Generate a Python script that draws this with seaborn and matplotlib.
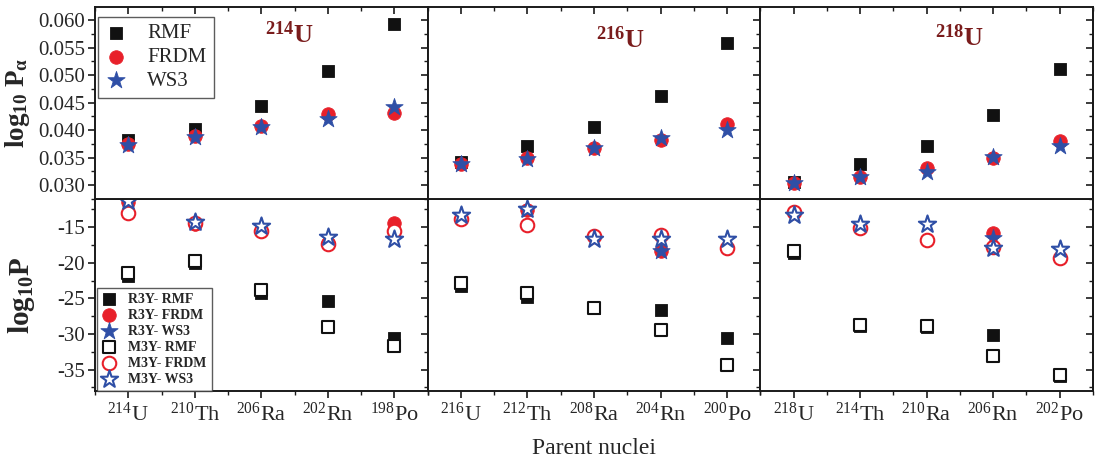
import numpy as np
import pandas as pd
import seaborn as sns
import matplotlib
matplotlib.use("Agg")
import matplotlib.pyplot as plt
from matplotlib.ticker import MultipleLocator, FormatStrFormatter

# ---------------- data ----------------
elements = ["U", "Th", "Ra", "Rn", "Po"]
mass_1 = [214, 210, 206, 202, 198]
mass_2 = [216, 212, 208, 204, 200]
mass_3 = [218, 214, 210, 206, 202]
parents = ["214U", "216U", "218U"]

# log10 P_alpha (top row)
pa_rmf_1 = [0.0383, 0.0402, 0.0444, 0.0508, 0.0593]
pa_frdm_1 = [0.0375, 0.0389, 0.0407, 0.0429, 0.0431]
pa_ws3_1 = [0.0374, 0.0388, 0.0406, 0.0421, 0.0442]
pa_rmf_2 = [0.0342, 0.0371, 0.0405, 0.0462, 0.0558]
pa_frdm_2 = [0.0338, 0.0350, 0.0368, 0.0383, 0.0411]
pa_ws3_2 = [0.0338, 0.0347, 0.0368, 0.0386, 0.0401]
pa_rmf_3 = [0.0306, 0.0338, 0.0371, 0.0427, 0.0511]
pa_frdm_3 = [0.0304, 0.0315, 0.0331, 0.0350, 0.0380]
pa_ws3_3 = [0.0304, 0.0315, 0.0324, 0.0351, 0.0372]

# log10 P (bottom row)
r3y_rmf_1 = [-21.8, -20.1, -24.3, -25.3, -30.5]
r3y_frdm_1 = [-11.5, -14.5, -15.6, -17.2, -14.4]
r3y_ws3_1 = [-11.4, -14.3, -14.9, -16.4, -16.6]
m3y_rmf_1 = [-21.4, -19.8, -23.8, -29.0, -31.7]
m3y_frdm_1 = [-13.0, -14.4, -15.6, -17.4, -15.6]
m3y_ws3_1 = [-11.4, -14.3, -14.9, -16.4, -16.6]

r3y_rmf_2 = [-23.2, -24.8, -26.4, -26.7, -30.5]
r3y_frdm_2 = [-13.9, -12.6, -16.2, -18.3, -17.9]
r3y_ws3_2 = [-13.3, -12.5, -16.7, -18.4, -16.7]
m3y_rmf_2 = [-22.9, -24.3, -26.4, -29.4, -34.4]
m3y_frdm_2 = [-13.9, -14.7, -16.2, -16.1, -17.9]
m3y_ws3_2 = [-13.3, -12.5, -16.7, -16.7, -16.7]

r3y_rmf_3 = [-18.7, -28.9, -29.0, -30.1, -35.9]
r3y_frdm_3 = [-12.9, -15.1, -16.8, -15.8, -19.3]
r3y_ws3_3 = [-13.3, -14.5, -14.5, -16.5, -18.1]
m3y_rmf_3 = [-18.4, -28.8, -28.9, -33.1, -35.8]
m3y_frdm_3 = [-12.9, -15.1, -16.8, -17.8, -19.3]
m3y_ws3_3 = [-13.3, -14.5, -14.5, -17.9, -18.1]

# ---------------- style ----------------
sns.set_theme(style="white")
plt.rcParams['font.family'] = ['Liberation Serif', 'DejaVu Serif']
plt.rcParams['mathtext.fontset'] = 'custom'
plt.rcParams['mathtext.rm'] = 'Liberation Serif'
plt.rcParams['mathtext.it'] = 'Liberation Serif:italic'
plt.rcParams['mathtext.bf'] = 'Liberation Serif:bold'
plt.rcParams['axes.unicode_minus'] = False

BLACK = "#111111"
RED = "#e8202a"
BLUE = "#2f4fa6"
ANNOT = "#7a1c1c"

fig, axes = plt.subplots(2, 3, figsize=(11, 4.63), dpi=100)
fig.subplots_adjust(left=0.0864, right=0.9936, top=0.985, bottom=0.1555,
                    hspace=0, wspace=0)

masses = [mass_1, mass_2, mass_3]
top_data = [(pa_rmf_1, pa_frdm_1, pa_ws3_1),
            (pa_rmf_2, pa_frdm_2, pa_ws3_2),
            (pa_rmf_3, pa_frdm_3, pa_ws3_3)]
bot_data = [(r3y_rmf_1, r3y_frdm_1, r3y_ws3_1, m3y_rmf_1, m3y_frdm_1, m3y_ws3_1),
            (r3y_rmf_2, r3y_frdm_2, r3y_ws3_2, m3y_rmf_2, m3y_frdm_2, m3y_ws3_2),
            (r3y_rmf_3, r3y_frdm_3, r3y_ws3_3, m3y_rmf_3, m3y_frdm_3, m3y_ws3_3)]

S_SQ, S_CI, S_ST = 80, 95, 170


def pts(ax, y, marker, s, col, filled, label):
    df = pd.DataFrame({"x": np.arange(len(y)), "y": y})
    if filled:
        sns.scatterplot(data=df, x="x", y="y", ax=ax, marker=marker, s=s,
                        color=col, edgecolor=col, linewidth=0.6, label=label,
                        legend=False, clip_on=False, zorder=3)
    else:
        sns.scatterplot(data=df, x="x", y="y", ax=ax, marker=marker, s=s,
                        color="white", edgecolor=col, linewidth=1.5, label=label,
                        legend=False, clip_on=False, zorder=3)
    return ax.collections[-1]


def style_axis(ax, row, col):
    for sp in ax.spines.values():
        sp.set_linewidth(1.4)
        sp.set_color("#1a1a1a")
    ax.set_xlim(-0.5, 4.5)
    ax.xaxis.set_major_locator(MultipleLocator(1))
    ax.xaxis.set_minor_locator(MultipleLocator(0.5))
    if row == 0:
        ax.set_ylim(0.0275, 0.0624)
        ax.yaxis.set_major_locator(MultipleLocator(0.005))
        ax.yaxis.set_minor_locator(MultipleLocator(0.0025))
        ax.yaxis.set_major_formatter(FormatStrFormatter('%.3f'))
        ax.tick_params(axis='x', which='both', direction='in', top=True,
                       bottom=False, labelbottom=False, labeltop=False, color="#1a1a1a")
    else:
        ax.set_ylim(-38.0, -11.05)
        ax.yaxis.set_major_locator(MultipleLocator(5))
        ax.yaxis.set_minor_locator(MultipleLocator(2.5))
        ax.tick_params(axis='x', which='both', direction='out', top=False,
                       bottom=True, labelbottom=True, color="#1a1a1a")
        ax.set_xticks(range(5))
        ax.set_xticklabels([f"$^{{{m}}}${e}" for m, e in zip(masses[col], elements)],
                           fontsize=16)
    ax.tick_params(axis='x', which='major', length=5, width=1.2, pad=3)
    ax.tick_params(axis='x', which='minor', length=3, width=1.0)
    if col == 0:
        ax.tick_params(axis='y', which='both', direction='out', left=True,
                       right=False, labelleft=True, labelsize=15, color="#1a1a1a")
        ax.tick_params(axis='y', which='major', length=5, width=1.2, pad=2)
        ax.tick_params(axis='y', which='minor', length=3, width=1.0)
    else:
        ax.tick_params(axis='y', which='both', left=False, right=False,
                       labelleft=False)
    sec = ax.secondary_yaxis('right')
    sec.yaxis.set_major_locator(ax.yaxis.get_major_locator())
    sec.yaxis.set_minor_locator(ax.yaxis.get_minor_locator())
    sec.tick_params(axis='y', which='both', direction='in', labelright=False,
                    color="#1a1a1a")
    sec.tick_params(axis='y', which='major', length=5, width=1.2)
    sec.tick_params(axis='y', which='minor', length=3, width=1.0)
    sec.spines['right'].set_linewidth(1.4)
    ax.set_xlabel("")
    ax.set_ylabel("")


top_handles = None
bot_handles = None
for c in range(3):
    ax = axes[0, c]
    rmf, frdm, ws3 = top_data[c]
    h1 = pts(ax, rmf, "s", S_SQ, BLACK, True, "RMF")
    h2 = pts(ax, frdm, "o", S_CI, RED, True, "FRDM")
    h3 = pts(ax, ws3, "*", S_ST, BLUE, True, "WS3")
    if c == 0:
        top_handles = [h1, h2, h3]
    style_axis(ax, 0, c)
    m, name = parents[c][:3], parents[c][3:]
    ax.text([0.585, 0.578, 0.60][c], [0.855, 0.83, 0.84][c],
            rf"$\mathbf{{^{{{m}}}}}${name}", transform=ax.transAxes,
            color=ANNOT, fontsize=19, fontweight='bold', ha='center', va='center')

    ax = axes[1, c]
    rr, rf_, rw, mr, mf, mw = bot_data[c]
    g1 = pts(ax, rr, "s", S_SQ, BLACK, True, "R3Y- RMF")
    g2 = pts(ax, rf_, "o", S_CI, RED, True, "R3Y- FRDM")
    g3 = pts(ax, rw, "*", S_ST, BLUE, True, "R3Y- WS3")
    g4 = pts(ax, mr, "s", S_SQ, BLACK, False, "M3Y- RMF")
    g5 = pts(ax, mf, "o", S_CI, RED, False, "M3Y- FRDM")
    g6 = pts(ax, mw, "*", S_ST, BLUE, False, "M3Y- WS3")
    if c == 0:
        bot_handles = [g1, g2, g3, g4, g5, g6]
    style_axis(ax, 1, c)

# top row drawn above bottom row so stray markers are covered properly
for c in range(3):
    axes[0, c].set_zorder(1)

leg1 = axes[0, 0].legend(handles=top_handles,
                         labels=["RMF", "FRDM", "WS3"],
                         loc='upper left', bbox_to_anchor=(0.01, 0.95),
                         borderaxespad=0, fontsize=15, frameon=True, fancybox=False,
                         edgecolor="#333333", labelspacing=0.2, handlelength=1.0,
                         handletextpad=1.0, borderpad=0.35, scatterpoints=1)
leg1.get_frame().set_linewidth(1.0)

leg2 = axes[1, 0].legend(handles=bot_handles,
                         labels=["R3Y- RMF", "R3Y- FRDM", "R3Y- WS3",
                                 "M3Y- RMF", "M3Y- FRDM", "M3Y- WS3"],
                         loc='lower left', bbox_to_anchor=(0.006, 0.0),
                         borderaxespad=0, prop={'weight': 'bold', 'size': 10},
                         frameon=True, fancybox=False, edgecolor="#333333",
                         labelspacing=0.22, handlelength=1.0, handletextpad=0.9,
                         borderpad=0.35, scatterpoints=1)
leg2.get_frame().set_linewidth(1.0)

axes[0, 0].set_ylabel(r"$\mathbf{log_{10}\ P_{\alpha}}$", fontsize=19.5)
axes[0, 0].yaxis.set_label_coords(-0.19, 0.5)
axes[1, 0].set_ylabel(r"$\mathbf{log_{10}P}$", fontsize=21)
axes[1, 0].yaxis.set_label_coords(-0.175, 0.5)

fig.text(594 / 1100, 1 - 448 / 463, "Parent nuclei", ha='center', va='center',
         fontsize=17)

fig.savefig("out.png", dpi=100)
